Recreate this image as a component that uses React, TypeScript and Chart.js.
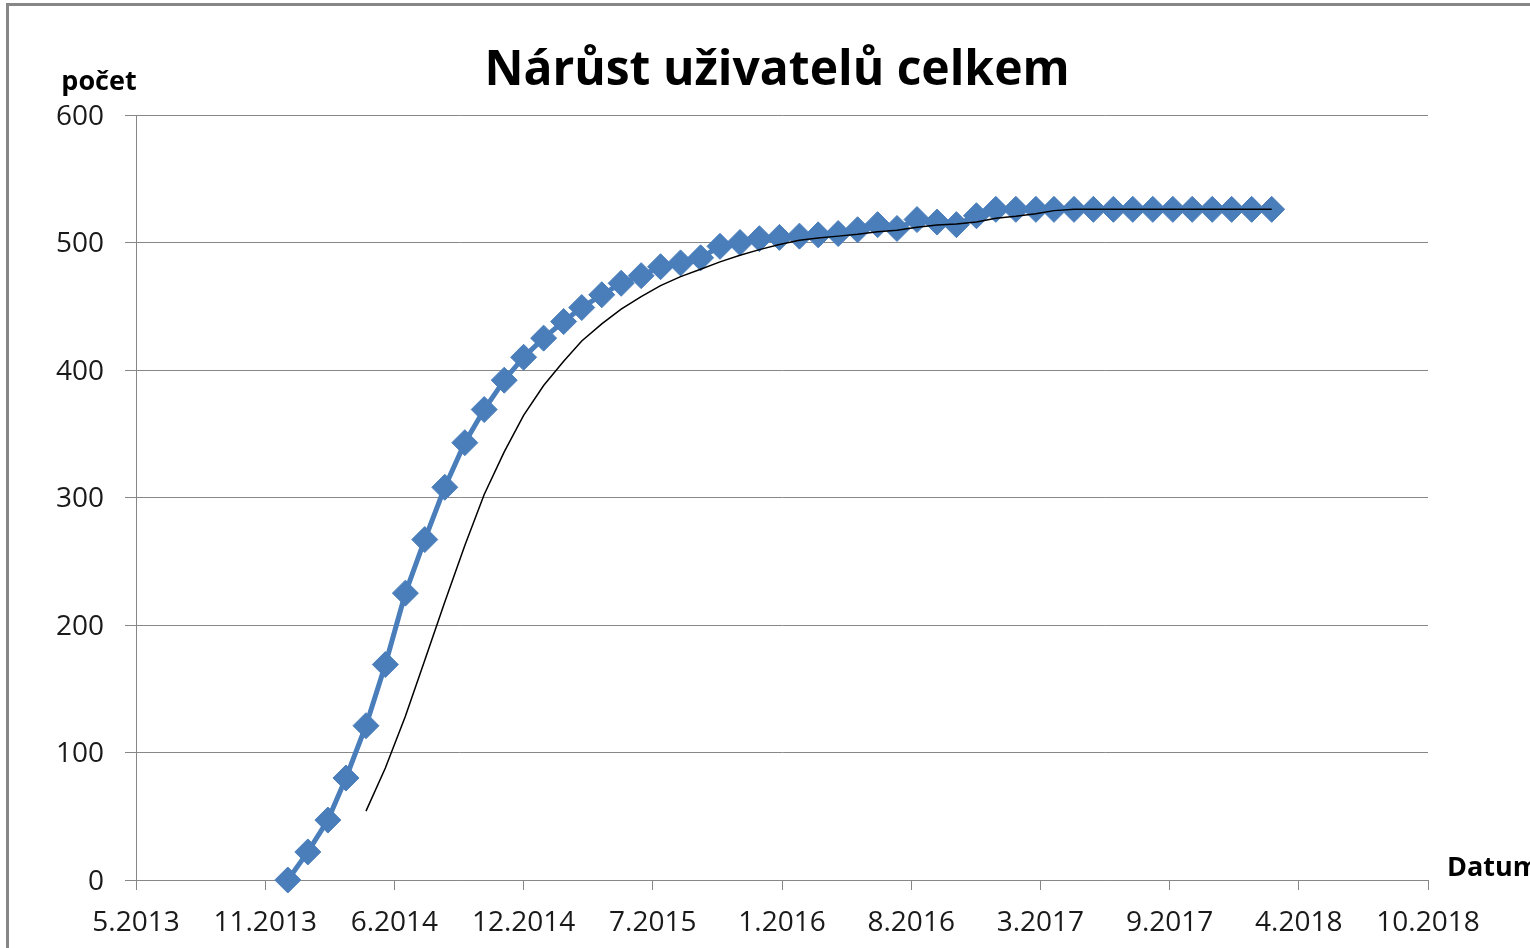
import { useEffect, useRef } from 'react';
import { Chart, registerables } from 'chart.js';

Chart.register(...registerables);

// ---- data ----
const chartTitle = 'Nárůst uživatelů celkem';
const yAxisTitle = 'počet';
const xAxisTitle = 'Datum';

const axisStartDate = '2013-05-01';
const axisEndDays = 2000;
const xTickStepDays = 200;
const yTicks = [0, 100, 200, 300, 400, 500, 600];

const dates = [
  '2013-12-22',
  '2014-01-22', '2014-02-22', '2014-03-22', '2014-04-22', '2014-05-22', '2014-06-22',
  '2014-07-22', '2014-08-22', '2014-09-22', '2014-10-22', '2014-11-22', '2014-12-22',
  '2015-01-22', '2015-02-22', '2015-03-22', '2015-04-22', '2015-05-22', '2015-06-22',
  '2015-07-22', '2015-08-22', '2015-09-22', '2015-10-22', '2015-11-22', '2015-12-22',
  '2016-01-22', '2016-02-22', '2016-03-22', '2016-04-22', '2016-05-22', '2016-06-22',
  '2016-07-22', '2016-08-22', '2016-09-22', '2016-10-22', '2016-11-22', '2016-12-22',
  '2017-01-22', '2017-02-22', '2017-03-22', '2017-04-22', '2017-05-22', '2017-06-22',
  '2017-07-22', '2017-08-22', '2017-09-22', '2017-10-22', '2017-11-22', '2017-12-22',
  '2018-01-22', '2018-02-22',
];

const users = [
  0,
  22, 47, 80, 121, 169, 225,
  267, 308, 343, 369, 392, 410,
  425, 438, 449, 459, 468, 474,
  481, 484, 488, 497, 500, 503,
  504, 505, 506, 507, 510, 514,
  511, 518, 516, 514, 521, 526,
  526, 526, 526, 526, 526, 526,
  526, 526, 526, 526, 526, 526,
  526, 526,
];

// Excel-style moving-average trendline period
const trendPeriod = 5;

// ---- helpers ----
const DAY = 86400000;
const parseUTC = (s: string) => {
  const [y, m, d] = s.split('-').map(Number);
  return Date.UTC(y, m - 1, d);
};
const startMs = parseUTC(axisStartDate);
const toDays = (s: string) => Math.round((parseUTC(s) - startMs) / DAY);
const fmtTick = (v: number) => {
  const d = new Date(startMs + v * DAY);
  return `${d.getUTCMonth() + 1}.${d.getUTCFullYear()}`;
};

const seriesPoints = dates.map((d, i) => ({ x: toDays(d), y: users[i] }));
const trendPoints = seriesPoints
  .map((p, i) => {
    if (i < trendPeriod - 1) return null;
    let s = 0;
    for (let k = i - trendPeriod + 1; k <= i; k++) s += users[k];
    return { x: p.x, y: s / trendPeriod };
  })
  .filter(Boolean) as { x: number; y: number }[];

const GRID = '#878787';
const TEXT = '#1a1a1a';
const FONT = "'Open Sans', 'Noto Sans', sans-serif";

const axisTitlesPlugin = {
  id: 'axisTitles',
  afterDraw(chart: Chart) {
    const ctx = chart.ctx;
    ctx.save();
    ctx.fillStyle = '#000';
    ctx.font = `bold 27px ${FONT}`;
    ctx.textBaseline = 'alphabetic';
    ctx.textAlign = 'center';
    ctx.fillText(yAxisTitle, 99, 90);
    ctx.textAlign = 'left';
    ctx.fillText(xAxisTitle, 1447, 876);
    ctx.restore();
  },
};

export default function App() {
  const ref = useRef<HTMLCanvasElement | null>(null);

  useEffect(() => {
    if (!ref.current) return;
    const chart = new Chart(ref.current, {
      type: 'line',
      data: {
        datasets: [
          {
            label: 'Klouzavý průměr',
            data: trendPoints,
            borderColor: '#000000',
            borderWidth: 1.5,
            pointRadius: 0,
            tension: 0,
            fill: false,
            order: 0,
          },
          {
            label: yAxisTitle,
            data: seriesPoints,
            borderColor: '#4a7ebb',
            backgroundColor: '#4a7ebb',
            borderWidth: 5,
            pointStyle: 'rectRot',
            pointRadius: 13,
            pointBackgroundColor: '#4a7ebb',
            pointBorderColor: '#4a7ebb',
            pointBorderWidth: 1,
            tension: 0,
            fill: false,
            clip: false,
            order: 1,
          },
        ],
      },
      options: {
        responsive: false,
        animation: false,
        devicePixelRatio: 1,
        layout: { padding: { left: 40, right: 16, top: 0, bottom: 0 } },
        plugins: {
          legend: { display: false },
          tooltip: { enabled: false },
          title: {
            display: true,
            text: chartTitle,
            color: '#000',
            font: { family: FONT, size: 48, weight: 'bold', lineHeight: 1.2 },
            padding: { top: 42.6, bottom: 14.8 },
          },
        },
        scales: {
          x: {
            type: 'linear',
            position: 'bottom',
            min: 0,
            max: axisEndDays,
            afterFit: (s: any) => {
              s.height = 68;
            },
            ticks: {
              stepSize: xTickStepDays,
              callback: (v: any) => fmtTick(Number(v)),
              font: { family: FONT, size: 28 },
              color: TEXT,
              padding: 16,
              maxRotation: 0,
              autoSkip: false,
            },
            grid: {
              drawOnChartArea: false,
              drawTicks: true,
              tickLength: 10,
              color: GRID,
              lineWidth: 1,
            },
            border: { display: true, color: GRID, width: 1 },
          },
          y: {
            type: 'linear',
            position: 'left',
            min: yTicks[0],
            max: yTicks[yTicks.length - 1],
            afterFit: (s: any) => {
              s.width = 96;
            },
            afterBuildTicks: (s: any) => {
              s.ticks = yTicks.map((v) => ({ value: v }));
            },
            ticks: {
              callback: (v: any) => String(v),
              font: { family: FONT, size: 28 },
              color: TEXT,
              padding: 21,
              labelOffset: 2,
            },
            grid: {
              drawOnChartArea: true,
              drawTicks: true,
              tickLength: 11,
              color: GRID,
              lineWidth: 1,
            },
            border: { display: true, color: GRID, width: 1 },
          },
          // empty right-hand spacer so the plot ends where the reference's does
          spacer: {
            type: 'linear',
            position: 'right',
            display: true,
            afterFit: (s: any) => {
              s.width = 86;
            },
            ticks: { display: false },
            grid: { display: false, drawTicks: false },
            border: { display: false },
          },
        },
      },
      plugins: [axisTitlesPlugin],
    });
    return () => chart.destroy();
  }, []);

  return (
    <div
      style={{
        position: 'fixed',
        left: 0,
        top: 0,
        width: 1530,
        height: 948,
        overflow: 'hidden',
        background: '#fff',
      }}
    >
      <div
        style={{
          position: 'absolute',
          left: 6,
          top: 3,
          width: 1600,
          height: 1000,
          borderLeft: '3px solid #878787',
          borderTop: '3px solid #878787',
          boxSizing: 'border-box',
        }}
      />
      <canvas
        ref={ref}
        width={1530}
        height={948}
        style={{ position: 'absolute', left: 0, top: 0, width: 1530, height: 948 }}
      />
    </div>
  );
}
